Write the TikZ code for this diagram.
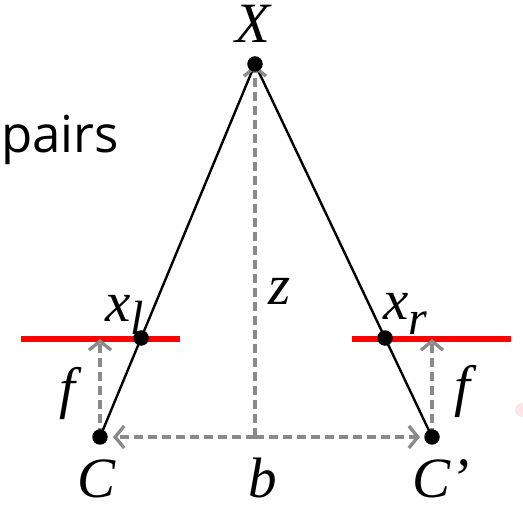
\documentclass[tikz,border=0pt]{standalone}
\usepackage{fontspec}
\setmainfont{Liberation Serif}
\newfontfamily\labelsans{Open Sans}
\usetikzlibrary{arrows.meta,calc}
\begin{document}
\begin{tikzpicture}[x=1pt,y=-1pt,
  dot/.style={circle,fill=black,inner sep=0pt,minimum size=15.5pt},
  lbl/.style={font=\fontsize{57}{60}\selectfont\itshape,inner sep=0pt,anchor=base},
  ray/.style={line width=2.4pt,black},
  guide/.style={draw=gray!92,line width=3.3pt,dash pattern=on 9pt off 5pt,
    -{Straight Barb[length=9pt,width=22pt,line width=3.3pt]}},
  plane/.style={line width=6pt,red}]
\useasboundingbox (0,0) rectangle (523,505);
\fill[red!10] (522,410) circle (7);
% red image planes
\coordinate (ll1) at (21,339);  \coordinate (ll2) at (180,339);
\coordinate (rl1) at (352,339); \coordinate (rl2) at (511,339);
\draw[plane] (ll1) -- (ll2);
\draw[plane] (rl1) -- (rl2);
% points
\coordinate (Xc) at (255,64);
\coordinate (Cc) at (100,437);
\coordinate (Cpc) at (432,437);
\coordinate (B) at (255,437);
% rays
\draw[ray] (Xc) -- (Cc);
\draw[ray] (Xc) -- (Cpc);
% dashed guides
\draw[guide,shorten >=1pt] (B) -- (Xc);
\draw[guide,shorten >=13pt] (B) -- (Cc);
\draw[guide,shorten >=12pt] (B) -- (Cpc);
\draw[guide] (Cc) -- (Cc |- ll1);
\draw[guide] (Cpc) -- (Cpc |- rl1);
% dots
\node[dot] (X) at (Xc) {};
\node[dot] (C) at (Cc) {};
\node[dot] (Cp) at (Cpc) {};
\node[dot] (xl) at ($(Xc)!0.7346!(Cc)$) {};
\node[dot] (xr) at ($(Xc)!0.7346!(Cpc)$) {};
% labels
\node[lbl] (lX) at (253,43) {X};
\node[lbl] (lC) at (97,498) {C};
\node[lbl] (lb) at (263,498) {b};
\node[lbl,anchor=base west] (lCp) at (412,498) {C’};
\node[lbl] (lf1) at (67,408) {f};
\node[lbl] (lf2) at (462,406) {f};
\node[lbl] (lz) at (280,305) {z};
\node[lbl,anchor=base west] (lxl) at (105,322) {x\raisebox{-13pt}{\fontsize{48}{50}\selectfont l}};
\node[lbl,anchor=base west] (lxr) at (383,320) {x\raisebox{-15pt}{\fontsize{48}{50}\selectfont r}};
\node[font=\labelsans\fontsize{51}{54}\selectfont,inner sep=0pt,anchor=base west] (pairs) at (1,153) {pairs};
\end{tikzpicture}
\end{document}
